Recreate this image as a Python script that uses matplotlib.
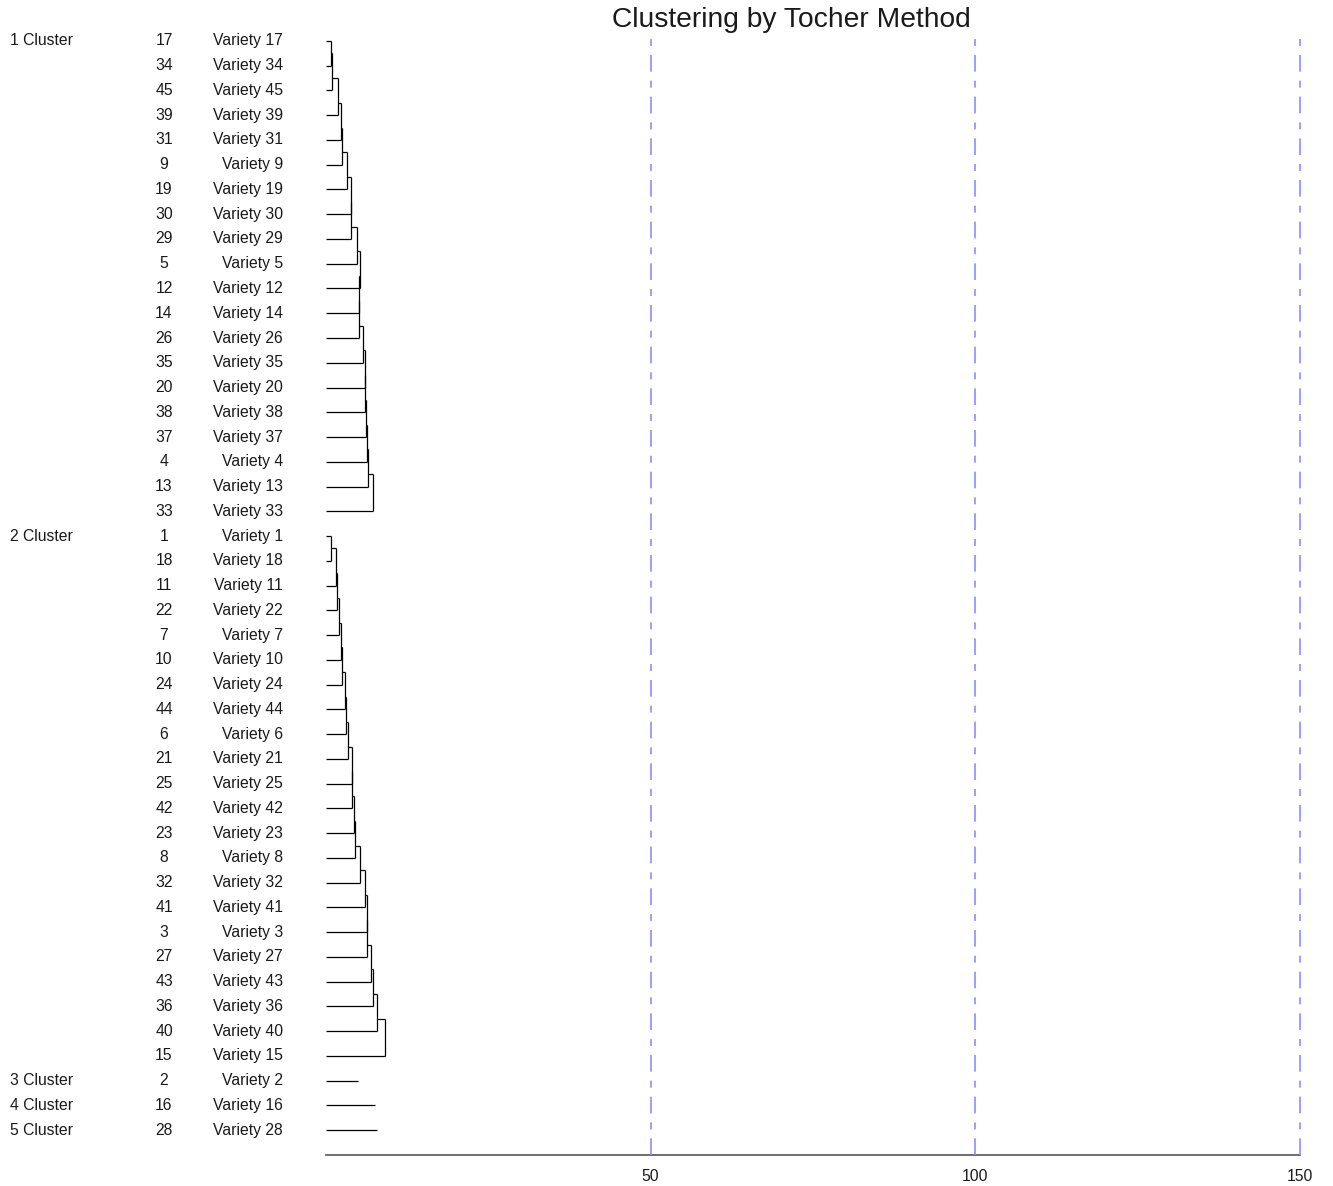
import matplotlib.pyplot as plt
import matplotlib.transforms as mtransforms

# ---- Data ----------------------------------------------------------------
cluster_names = ["1 Cluster", "2 Cluster", "3 Cluster", "4 Cluster", "5 Cluster"]

cluster_members = [
    [17, 34, 45, 39, 31, 9, 19, 30, 29, 5, 12, 14, 26, 35, 20, 38, 37, 4, 13, 33],
    [1, 18, 11, 22, 7, 10, 24, 44, 6, 21, 25, 42, 23, 8, 32, 41, 3, 27, 43, 36,
     40, 15],
    [2],
    [16],
    [28],
]

# level at which each member (2nd onwards) joins its cluster;
# for a one-member cluster it is the length of its line
cluster_heights = [
    [0.72, 0.92, 1.89, 2.31, 2.46, 3.19, 3.85, 3.85, 4.73, 5.24, 5.08, 5.08,
     5.70, 6.00, 6.00, 6.16, 6.36, 6.51, 7.19],
    [0.77, 1.59, 1.74, 2.00, 2.36, 2.51, 2.97, 3.13, 3.34, 3.96, 4.05, 4.31,
     4.47, 5.19, 6.05, 6.27, 6.36, 6.98, 7.19, 7.81, 9.09],
    [4.98],
    [7.55],
    [7.81],
]

x_ticks = [50, 100, 150]

# ---- Figure setup --------------------------------------------------------
plt.rcParams["font.family"] = ["Liberation Sans", "DejaVu Sans"]
plt.rcParams["lines.scale_dashes"] = False

W, H = 1333, 1186
fig = plt.figure(figsize=(W / 100, H / 100), dpi=100)
ax = fig.add_axes([326 / W, 1 - 1155 / H, 974 / W, (1155 - 33) / H])

n_rows = sum(len(m) for m in cluster_members)
ax.set_xlim(0, 150)
ax.set_ylim(n_rows + 0.0, -0.32)

line_kw = dict(color="black", lw=0.9, solid_capstyle="butt", clip_on=False)
text_color = "#1a1a1a"
fs = 11.3
lab = mtransforms.blended_transform_factory(fig.transFigure, ax.transData)

row = 0
for name, members, heights in zip(cluster_names, cluster_members, cluster_heights):
    rows = list(range(row, row + len(members)))
    fig.text(10 / W, rows[0], name, transform=lab, ha="left", va="center",
             fontsize=fs, color=text_color)
    for r, m in zip(rows, members):
        fig.text(164 / W, r, str(m), transform=lab, ha="center", va="center",
                 fontsize=fs, color=text_color)
        fig.text(283 / W, r, f"Variety {m}", transform=lab, ha="right",
                 va="center", fontsize=fs, color=text_color)

    if len(members) == 1:
        ax.plot([0, heights[0]], [rows[0], rows[0]], **line_kw)
    else:
        ax.plot([0, heights[0]], [rows[0], rows[0]], **line_kw)
        for k in range(1, len(members)):
            h = heights[k - 1]
            y_prev = rows[0] if k == 1 else (rows[k - 2] + rows[k - 1]) / 2
            ax.plot([0, h], [rows[k], rows[k]], **line_kw)
            ax.plot([h, h], [y_prev, rows[k]], **line_kw)
            if k >= 2:
                ax.plot([heights[k - 2], h], [y_prev, y_prev], **line_kw)
    row += len(members)

for xv in x_ticks:
    ax.axvline(xv, color="#8c8cff", lw=1.2, clip_on=False,
               linestyle=(0, (12, 6.5, 5, 6.5)), zorder=3)

# ---- Cosmetics -----------------------------------------------------------
for spine in ("top", "right", "left"):
    ax.spines[spine].set_visible(False)
ax.spines["bottom"].set_bounds(0, 150)
ax.spines["bottom"].set_color("#555555")
ax.spines["bottom"].set_linewidth(1.2)
ax.set_yticks([])
ax.set_xticks(x_ticks)
ax.tick_params(axis="x", length=0, pad=10, labelsize=fs, labelcolor=text_color)

fig.text(791 / W, 1 - 20 / H, "Clustering by Tocher Method", ha="center",
         va="center", fontsize=20.3, color=text_color)

fig.savefig("out.png", dpi=100)
